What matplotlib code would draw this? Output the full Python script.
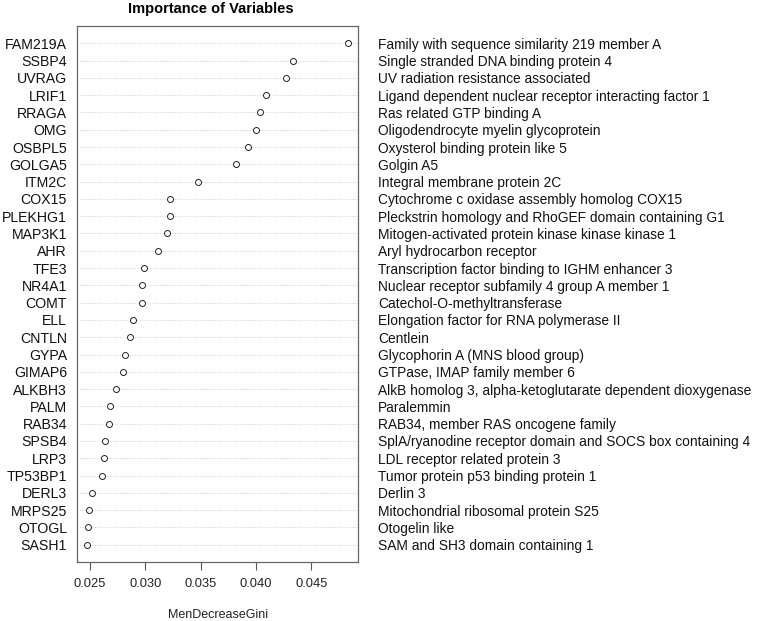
import numpy as np
import matplotlib
matplotlib.use('Agg')
import matplotlib.pyplot as plt

plt.rcParams['font.family'] = ['Liberation Sans', 'DejaVu Sans']

# Genes ordered top to bottom, with their MeanDecreaseGini values
genes = ['FAM219A', 'SSBP4', 'UVRAG', 'LRIF1', 'RRAGA', 'OMG', 'OSBPL5', 'GOLGA5',
         'ITM2C', 'COX15', 'PLEKHG1', 'MAP3K1', 'AHR', 'TFE3', 'NR4A1', 'COMT',
         'ELL', 'CNTLN', 'GYPA', 'GIMAP6', 'ALKBH3', 'PALM', 'RAB34', 'SPSB4',
         'LRP3', 'TP53BP1', 'DERL3', 'MRPS25', 'OTOGL', 'SASH1']
gini = [0.04827, 0.04332, 0.04269, 0.04086, 0.04034, 0.04002, 0.03923, 0.03821,
        0.03473, 0.03224, 0.03221, 0.03197, 0.03113, 0.02986, 0.02971, 0.02965,
        0.02884, 0.02860, 0.02818, 0.02800, 0.02734, 0.02677, 0.02668, 0.02638,
        0.02623, 0.02608, 0.02515, 0.02491, 0.02479, 0.02476]
descriptions = ['Family with sequence similarity 219 member A',
                'Single stranded DNA binding protein 4',
                'UV radiation resistance associated',
                'Ligand dependent nuclear receptor interacting factor 1',
                'Ras related GTP binding A',
                'Oligodendrocyte myelin glycoprotein',
                'Oxysterol binding protein like 5',
                'Golgin A5',
                'Integral membrane protein 2C',
                'Cytochrome c oxidase assembly homolog COX15',
                'Pleckstrin homology and RhoGEF domain containing G1',
                'Mitogen-activated protein kinase kinase kinase 1',
                'Aryl hydrocarbon receptor',
                'Transcription factor binding to IGHM enhancer 3',
                'Nuclear receptor subfamily 4 group A member 1',
                'Catechol-O-methyltransferase',
                'Elongation factor for RNA polymerase II',
                'Centlein',
                'Glycophorin A (MNS blood group)',
                'GTPase, IMAP family member 6',
                'AlkB homolog 3, alpha-ketoglutarate dependent dioxygenase',
                'Paralemmin',
                'RAB34, member RAS oncogene family',
                'SplA/ryanodine receptor domain and SOCS box containing 4',
                'LDL receptor related protein 3',
                'Tumor protein p53 binding protein 1',
                'Derlin 3',
                'Mitochondrial ribosomal protein S25',
                'Otogelin like',
                'SAM and SH3 domain containing 1']
xticks = [0.025, 0.030, 0.035, 0.040, 0.045]

n = len(genes)
ypos = np.arange(n, 0, -1)

fig = plt.figure(figsize=(7.6, 6.21), dpi=100)
ax = fig.add_axes([77/760, 1 - 562/621, (358 - 77)/760, (562 - 26)/621])

# dotted guide lines like R's dotchart
for y in ypos:
    ax.axhline(y, color='#bdbdbd', linestyle=(0, (1, 2)), linewidth=0.6, zorder=1)
ax.plot(gini, ypos, 'o', markerfacecolor='white', markeredgecolor='#222222',
        markersize=4.3, markeredgewidth=0.7, linestyle='none', zorder=3)

rng = max(gini) - min(gini)
ax.set_xlim(min(gini) - 0.04 * rng, max(gini) + 0.04 * rng)
ax.set_ylim(0, n + 1)
ax.set_xticks(xticks)
ax.set_xticklabels(['%.3f' % v for v in xticks], fontsize=9.3, color='#222222')
ax.tick_params(axis='x', length=5.8, width=0.8, color='#555555', pad=6)
ax.set_yticks(ypos)
ax.set_yticklabels(genes, fontsize=10.2, color='#111111')
ax.tick_params(axis='y', length=0, pad=7.2)
for s in ax.spines.values():
    s.set_color('#666666')
    s.set_linewidth(0.9)

ax2 = ax.twinx()
ax2.set_ylim(0, n + 1)
ax2.set_yticks(ypos)
ax2.set_yticklabels(descriptions, fontsize=9.95, color='#111111')
ax2.tick_params(axis='y', length=0, pad=14.4)
for s in ax2.spines.values():
    s.set_visible(False)

fig.text(218/760, 1 - 615/621, 'MenDecreaseGini', ha='center', va='center',
         fontsize=9, color='#222222')
fig.text(211/760, 1 - 9/621, 'Importance of Variables', ha='center', va='center',
         fontsize=10.5, fontweight='bold')

plt.savefig('out.png', dpi=100)
